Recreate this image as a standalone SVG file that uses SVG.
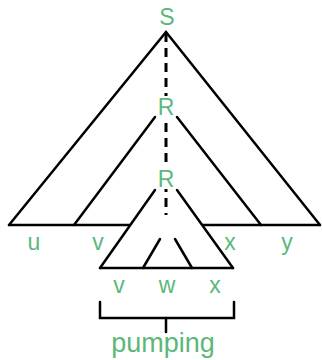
<svg xmlns="http://www.w3.org/2000/svg" width="322" height="360" viewBox="0 0 322 360">
<style>
.ln{stroke:#000;stroke-width:2.5;fill:none;stroke-linecap:round}
.lb{font-family:"Liberation Sans",Arial,sans-serif;font-size:23px;fill:#5cb87a;text-anchor:middle}
.pm{font-size:27px}
</style>
<rect width="322" height="360" fill="#fff"/>
<g id="tree-S">
<polyline class="ln" points="9,225 166,32 320,225"/>
<line class="ln" x1="9" y1="225" x2="320" y2="225"/>
</g>
<g id="tree-R1">
<line class="ln" x1="155" y1="117" x2="74" y2="225"/>
<line class="ln" x1="177" y1="117" x2="261" y2="225"/>
</g>
<g id="tree-R2">
<polygon points="166,174 100,268 233,268" fill="#fff"/>
<line class="ln" x1="155" y1="190" x2="100" y2="268"/>
<line class="ln" x1="177" y1="190" x2="233" y2="268"/>
<line class="ln" x1="100" y1="268" x2="233" y2="268"/>
<line class="ln" x1="160" y1="239" x2="143" y2="268"/>
<line class="ln" x1="175" y1="239" x2="192" y2="268"/>
</g>
<g id="connectors">
<line x1="166" y1="33" x2="166" y2="215" stroke="#000" stroke-width="3" stroke-dasharray="9 6"/>
<polyline class="ln" points="100,302 100,318 234,318 234,302"/>
<line class="ln" x1="166" y1="318" x2="166" y2="332"/>
</g>
<g id="label-S"><rect x="158" y="5" width="18" height="22" fill="#fff"/><text class="lb" x="167" y="25">S</text></g>
<g id="label-R1"><rect x="157" y="96" width="18" height="21" fill="#fff"/><text class="lb" x="166" y="115">R</text></g>
<g id="label-R2"><rect x="157" y="168" width="18" height="21" fill="#fff"/><text class="lb" x="166" y="187">R</text></g>
<g id="label-u"><text class="lb" x="34" y="250">u</text></g>
<g id="label-v1"><text class="lb" x="98" y="250">v</text></g>
<g id="label-x1"><text class="lb" x="230" y="250">x</text></g>
<g id="label-y"><text class="lb" x="287" y="250">y</text></g>
<g id="label-v2"><text class="lb" x="119" y="293">v</text></g>
<g id="label-w"><text class="lb" x="167" y="293">w</text></g>
<g id="label-x2"><text class="lb" x="215" y="293">x</text></g>
<g id="label-pumping"><text class="lb pm" x="163" y="352">pumping</text></g>
</svg>
